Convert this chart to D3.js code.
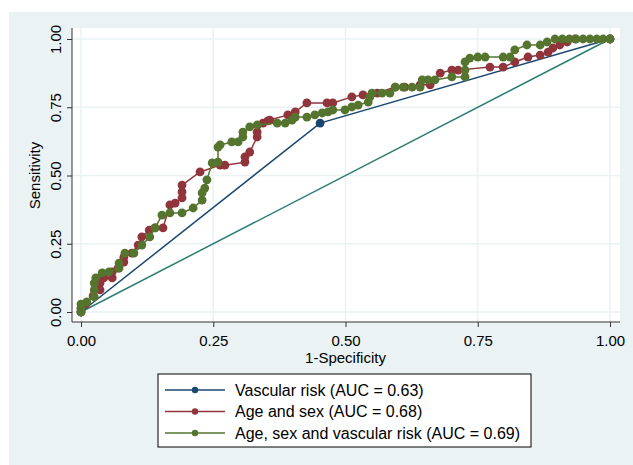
<!DOCTYPE html>
<html>
<head>
<meta charset="utf-8">
<script src="https://cdn.jsdelivr.net/npm/d3@7"></script>
<style>
  body { margin: 0; background: #fff; }
  text { font-family: "Liberation Sans", Arial, sans-serif; fill: #000; }
</style>
</head>
<body>
<div id="chart"></div>
<script>
// data (1-specificity, sensitivity)
const seriesNames = [
  "Vascular risk (AUC = 0.63)",
  "Age and sex (AUC = 0.68)",
  "Age, sex and vascular risk (AUC = 0.69)"
];
const seriesColors = ["#1a476f", "#90353b", "#55752f"];

const vascFpr = [0, 0.452, 1];
const vascTpr = [0, 0.692, 1];

const ageSexFpr = [0, 0, 0.009, 0.023, 0.036, 0.036, 0.043, 0.059, 0.059, 0.070, 0.081, 0.081, 0.096, 0.108,
  0.115, 0.129, 0.140, 0.155, 0.168, 0.178, 0.191, 0.191, 0.191, 0.225, 0.263, 0.272, 0.310, 0.310,
  0.319, 0.333, 0.333, 0.344, 0.353, 0.357, 0.391, 0.405, 0.427, 0.465, 0.476, 0.512, 0.533, 0.560,
  0.594, 0.612, 0.641, 0.660, 0.679, 0.701, 0.713, 0.773, 0.798, 0.820, 0.845, 0.868, 0.883, 0.892,
  0.905, 0.919, 0.934, 1];
const ageSexTpr = [0, 0.011, 0.029, 0.059, 0.081, 0.106, 0.125, 0.125, 0.147, 0.161, 0.183, 0.201, 0.216, 0.245,
  0.275, 0.300, 0.308, 0.308, 0.392, 0.399, 0.418, 0.440, 0.465, 0.513, 0.538, 0.538, 0.549, 0.568,
  0.586, 0.641, 0.659, 0.692, 0.700, 0.703, 0.722, 0.733, 0.766, 0.766, 0.766, 0.788, 0.795, 0.802,
  0.824, 0.824, 0.832, 0.832, 0.875, 0.886, 0.886, 0.897, 0.897, 0.916, 0.934, 0.941, 0.952, 0.967,
  0.978, 0.989, 1, 1];

const fullFpr = [0, 0, 0, 0.011, 0.025, 0.025, 0.025, 0.028, 0.040, 0.053, 0.072, 0.072, 0.083, 0.100,
  0.115, 0.130, 0.140, 0.153, 0.168, 0.191, 0.212, 0.229, 0.229, 0.234, 0.238, 0.248, 0.259, 0.259,
  0.263, 0.285, 0.297, 0.306, 0.306, 0.319, 0.333, 0.371, 0.386, 0.399, 0.405, 0.427, 0.442, 0.456,
  0.467, 0.476, 0.499, 0.512, 0.524, 0.543, 0.546, 0.550, 0.569, 0.584, 0.594, 0.609, 0.626, 0.641,
  0.645, 0.656, 0.669, 0.701, 0.726, 0.726, 0.726, 0.735, 0.750, 0.764, 0.798, 0.811, 0.820, 0.843,
  0.868, 0.881, 0.896, 0.910, 0.923, 0.936, 0.949, 0.962, 0.975, 0.987, 1];
const fullTpr = [0, 0.015, 0.029, 0.037, 0.055, 0.081, 0.106, 0.125, 0.143, 0.147, 0.161, 0.179, 0.216, 0.216,
  0.245, 0.275, 0.308, 0.355, 0.363, 0.363, 0.381, 0.410, 0.436, 0.454, 0.484, 0.546, 0.549, 0.604,
  0.612, 0.623, 0.623, 0.641, 0.659, 0.678, 0.685, 0.692, 0.692, 0.703, 0.714, 0.714, 0.722, 0.729,
  0.733, 0.740, 0.740, 0.751, 0.758, 0.769, 0.788, 0.802, 0.802, 0.802, 0.824, 0.824, 0.824, 0.824,
  0.850, 0.850, 0.850, 0.861, 0.861, 0.886, 0.916, 0.930, 0.934, 0.934, 0.934, 0.934, 0.960, 0.978,
  0.978, 0.989, 1, 1, 1, 1, 1, 1, 1, 1, 1];

const tickValues = [0, 0.25, 0.5, 0.75, 1];

const W = 633, H = 465;
const svg = d3.select("#chart").append("svg")
  .attr("width", W)
  .attr("height", H);

// outer graph region
svg.append("rect")
  .attr("x", 9).attr("y", 12)
  .attr("width", W - 9).attr("height", H - 12)
  .attr("fill", "#eaf2f3");

// plot region
const plotL = 72, plotR = 620, plotT = 28, plotB = 322;
svg.append("rect")
  .attr("x", plotL).attr("y", plotT)
  .attr("width", plotR - plotL).attr("height", plotB - plotT)
  .attr("fill", "#fff");

const x = d3.scaleLinear().domain([0, 1]).range([81, 610]);
const y = d3.scaleLinear().domain([0, 1]).range([312, 39]);

// grid
svg.append("g").selectAll("line")
  .data(tickValues)
  .join("line")
  .attr("x1", d => x(d)).attr("x2", d => x(d))
  .attr("y1", plotT).attr("y2", plotB)
  .attr("stroke", "#eaf2f3").attr("stroke-width", 1.5);
svg.append("g").selectAll("line")
  .data(tickValues)
  .join("line")
  .attr("x1", plotL).attr("x2", plotR)
  .attr("y1", d => y(d)).attr("y2", d => y(d))
  .attr("stroke", "#eaf2f3").attr("stroke-width", 1.5);

// axes
const xAxis = svg.append("g")
  .attr("transform", `translate(0,${plotB})`)
  .call(d3.axisBottom(x).tickValues(tickValues).tickFormat(d3.format(".2f")).tickSize(5));
xAxis.select(".domain").attr("d", `M${plotL},0H${plotR}`);
xAxis.selectAll("text").attr("font-size", 15).attr("dy", null).attr("y", 24);

const yAxis = svg.append("g")
  .attr("transform", `translate(${plotL},0)`)
  .call(d3.axisLeft(y).tickValues(tickValues).tickFormat(d3.format(".2f")).tickSize(5));
yAxis.select(".domain").attr("d", `M0,${plotT}V${plotB}`);
yAxis.selectAll("text")
  .attr("font-size", 15)
  .attr("x", null).attr("dy", null)
  .attr("text-anchor", "middle")
  .attr("transform", "translate(-11.5,0) rotate(-90)");
svg.selectAll(".tick line, .domain").attr("stroke", "#333");

svg.append("text")
  .attr("x", (x(0) + x(1)) / 2).attr("y", 363)
  .attr("text-anchor", "middle").attr("font-size", 15)
  .text("1-Specificity");
svg.append("text")
  .attr("transform", `translate(40,${(y(0) + y(1)) / 2}) rotate(-90)`)
  .attr("text-anchor", "middle").attr("font-size", 15)
  .text("Sensitivity");

// reference diagonal
svg.append("line")
  .attr("x1", x(0)).attr("y1", y(0))
  .attr("x2", x(1)).attr("y2", y(1))
  .attr("stroke", "#2b7d72").attr("stroke-width", 1.5);

const series = [
  {fpr: vascFpr, tpr: vascTpr},
  {fpr: ageSexFpr, tpr: ageSexTpr},
  {fpr: fullFpr, tpr: fullTpr}
];
const line = d3.line().x(d => x(d[0])).y(d => y(d[1]));

series.forEach((s, i) => {
  const pts = s.fpr.map((f, j) => [f, s.tpr[j]]);
  const g = svg.append("g");
  g.append("path")
    .attr("d", line(pts))
    .attr("fill", "none")
    .attr("stroke", seriesColors[i])
    .attr("stroke-width", 1.5);
  g.selectAll("circle")
    .data(pts)
    .join("circle")
    .attr("cx", d => x(d[0])).attr("cy", d => y(d[1]))
    .attr("r", 4.4)
    .attr("fill", seriesColors[i]);
});

// legend
const legend = svg.append("g");
legend.append("rect")
  .attr("x", 158).attr("y", 374)
  .attr("width", 373).attr("height", 73)
  .attr("fill", "#fff").attr("stroke", "#000").attr("stroke-width", 1);
seriesNames.forEach((name, i) => {
  const ly = 390 + i * 21.5;
  legend.append("line")
    .attr("x1", 165).attr("x2", 225).attr("y1", ly).attr("y2", ly)
    .attr("stroke", seriesColors[i]).attr("stroke-width", 1.5);
  legend.append("circle")
    .attr("cx", 195).attr("cy", ly).attr("r", 3.2)
    .attr("fill", seriesColors[i]);
  legend.append("text")
    .attr("x", 235).attr("y", ly + 5.5)
    .attr("font-size", 16)
    .text(name);
});
</script>
</body>
</html>
